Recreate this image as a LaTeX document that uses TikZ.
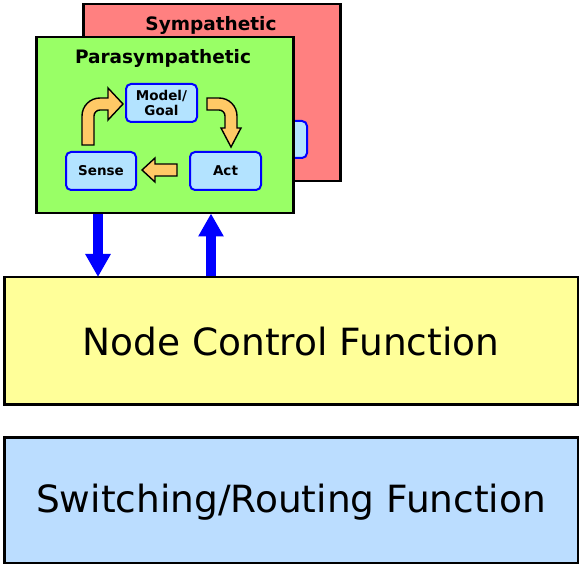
\documentclass[tikz,border=0pt]{standalone}
\usepackage{fontspec}
\setmainfont{DejaVu Sans}
\usetikzlibrary{arrows.meta}
\definecolor{sympred}{HTML}{FF8080}
\definecolor{paragreen}{HTML}{99FF66}
\definecolor{cellblue}{HTML}{B3E3FF}
\definecolor{ncfyellow}{HTML}{FFFF99}
\definecolor{srfblue}{HTML}{BBDDFF}
\definecolor{loopor}{HTML}{FFC966}
\tikzset{
  panel/.style={draw=black, line width=2.5pt, rectangle, inner sep=0pt},
  paneltitle/.style={font=\bfseries\fontsize{18.5}{20}\selectfont},
  cell/.style={draw=blue, line width=2pt, fill=cellblue, rounded corners=5pt, rectangle, inner sep=0pt,
               font=\bfseries\fontsize{13.5}{15}\selectfont, align=center},
  bigbox/.style={draw=black, line width=2.5pt, rectangle, inner sep=0pt},
  biglabel/.style={font=\fontsize{37.5}{40}\selectfont},
  looparrow/.style={draw=black, line width=1.4pt, fill=loopor, line join=miter},
  linkarrow/.style={draw=blue, line width=10pt, -{Triangle[width=24pt,length=23pt]}, shorten >=-1pt},
}
\begin{document}
\begin{tikzpicture}[x=1pt, y=-1pt]
\useasboundingbox (0,0) rectangle (579,564);

% Sympathetic layer (behind)
\node[panel, fill=sympred, minimum width=257pt, minimum height=177pt, anchor=north west] (symp) at (82,3) {};
\node[paneltitle] (symptitle) at (211,25) {Sympathetic};
\node[cell, minimum width=58pt, minimum height=37pt, anchor=north east] (hidden) at (308,120) {};

% Parasympathetic layer (front)
\node[panel, fill=paragreen, minimum width=257pt, minimum height=176pt, anchor=north west] (para) at (35,36) {};
\node[paneltitle] (paratitle) at (163,58) {Parasympathetic};

% Sense / model / act loop
\node[cell, minimum width=71pt, minimum height=38pt] (model) at (161.5,103) {Model/\\Goal};
\node[cell, minimum width=70pt, minimum height=38pt] (sense) at (101,171) {Sense};
\node[cell, minimum width=71pt, minimum height=38pt] (act) at (225.5,171) {Act};

% Sense -> Model/Goal
\draw[looparrow] (82,145) -- (82,116) .. controls (82,106) and (90,98) .. (100,98) -- (108,98) -- (108,88)
  -- (123,104) -- (108,120) -- (108,110) -- (100,110) .. controls (96.7,110) and (94,112.7) .. (94,116)
  -- (94,145) -- cycle;
% Model/Goal -> Act
\draw[looparrow] (207,98) -- (219,98) .. controls (229,98) and (237,106) .. (237,116) -- (237,128) -- (241,128)
  -- (231,147) -- (221,128) -- (225,128) -- (225,116) .. controls (225,112.7) and (222.3,110) .. (219,110)
  -- (207,110) -- cycle;
% Act -> Sense
\draw[looparrow] (177,164) -- (155,164) -- (155,158) -- (142,170) -- (155,182) -- (155,176) -- (177,176) -- cycle;

% Function layers
\node[bigbox, fill=ncfyellow, minimum width=573.5pt, minimum height=127pt, anchor=north west] (ncf) at (3,276) {};
\node[biglabel] (ncflabel) at (291,342) {Node Control Function};
\node[bigbox, fill=srfblue, minimum width=573.5pt, minimum height=125.5pt, anchor=north west] (srf) at (3,436) {};
\node[biglabel] (srflabel) at (291,502) {Switching/Routing Function};

% Links between the parasympathetic layer and node control
\coordinate (dnx) at (98,0);
\coordinate (upx) at (211,0);
\draw[linkarrow] (para.south -| dnx) -- (ncf.north -| dnx);
\draw[linkarrow] (ncf.north -| upx) -- (para.south -| upx);
\end{tikzpicture}
\end{document}
